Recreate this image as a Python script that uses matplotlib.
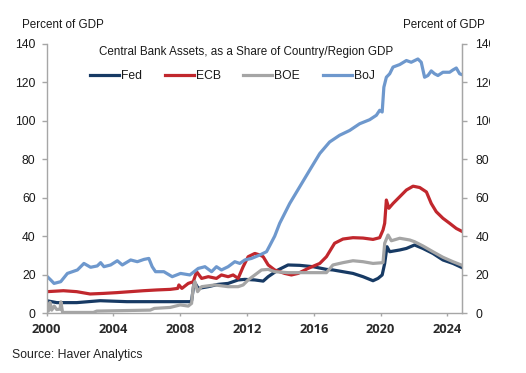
import matplotlib
matplotlib.use("Agg")
import matplotlib.pyplot as plt
from matplotlib.patches import Rectangle

# ---------------- data ----------------
fed_x = [2000.0, 2000.6, 2001.8, 2003.2, 2004.8, 2007.8, 2008.58, 2008.68, 2008.84, 2009.08,
         2009.68, 2010.27, 2010.87, 2011.47, 2011.87, 2012.47, 2012.97, 2013.27, 2013.86, 2014.46,
         2015.16, 2015.96, 2016.76, 2017.15, 2017.75, 2018.35, 2018.95, 2019.55, 2019.85, 2020.1,
         2020.25, 2020.39, 2020.55, 2021.15, 2021.55, 2022.04, 2022.54, 2023.14, 2023.74, 2024.34,
         2024.84]
fed_y = [6.4, 5.4, 5.4, 6.4, 5.9, 5.9, 5.9, 6.4, 16.3, 12.8,
         13.7, 14.9, 15.4, 17.2, 17.5, 17.2, 16.6, 18.9, 22.4, 25.0,
         24.8, 24.1, 22.7, 22.4, 21.5, 20.6, 18.9, 16.8, 18.0, 19.8,
         25.8, 34.5, 31.9, 32.8, 33.6, 35.4, 33.6, 31.0, 27.6, 25.8,
         23.8]

ecb_x = [2000.0, 2001.0, 2001.8, 2002.6, 2003.4, 2004.2, 2005.0, 2005.8, 2006.6, 2007.4,
         2007.85, 2007.92, 2008.1, 2008.48, 2008.78, 2008.98, 2009.28, 2009.68, 2010.17, 2010.47,
         2010.87, 2011.17, 2011.47, 2011.77, 2012.07, 2012.47, 2012.77, 2012.97, 2013.27, 2013.66,
         2014.26, 2014.66, 2015.06, 2015.66, 2016.36, 2016.76, 2017.25, 2017.75, 2018.35, 2018.95,
         2019.55, 2019.95, 2020.15, 2020.25, 2020.35, 2020.5, 2020.75, 2021.15, 2021.55, 2021.95,
         2022.35, 2022.75, 2023.04, 2023.34, 2023.74, 2024.14, 2024.54, 2024.9]
ecb_y = [11.1, 11.6, 11.1, 9.9, 10.2, 10.6, 11.1, 11.6, 12.0, 12.3,
         12.8, 14.6, 12.8, 15.4, 16.3, 21.5, 18.0, 18.9, 18.0, 19.8,
         18.9, 19.8, 18.0, 24.1, 29.3, 31.0, 30.2, 29.3, 25.0, 22.4,
         20.6, 19.8, 20.6, 23.2, 25.8, 29.3, 36.3, 38.5, 39.2, 39.0,
         38.3, 39.2, 43.2, 46.7, 58.8, 54.5, 57.0, 60.5, 64.0, 66.0,
         65.3, 63.0, 57.0, 52.7, 49.3, 46.7, 44.0, 42.4]

boe_x = [2000.0, 2000.1, 2000.2, 2000.3, 2000.45, 2000.6, 2000.8, 2000.85, 2000.95, 2002.8,
         2003.0, 2006.2, 2006.45, 2007.4, 2008.0, 2008.48, 2008.68, 2008.78, 2008.88, 2009.04,
         2009.28, 2010.07, 2010.87, 2011.47, 2011.77, 2012.07, 2012.47, 2012.87, 2013.27, 2013.66,
         2014.46, 2016.76, 2017.15, 2017.75, 2018.35, 2018.95, 2019.55, 2020.15, 2020.25, 2020.45,
         2020.65, 2021.15, 2021.75, 2022.04, 2022.54, 2023.14, 2023.74, 2024.34, 2024.84]
boe_y = [4.2, 1.0, 5.5, 1.5, 3.6, 1.8, 2.0, 5.8, 0.3, 0.3,
         1.0, 1.5, 2.4, 2.9, 4.2, 3.6, 5.0, 13.7, 16.3, 11.1,
         13.7, 14.6, 13.7, 13.7, 14.6, 17.2, 19.8, 22.4, 22.7, 21.5,
         21.0, 21.0, 25.0, 26.2, 27.2, 26.7, 25.8, 26.2, 36.3, 40.6,
         37.6, 38.9, 38.0, 37.1, 34.9, 31.9, 29.0, 26.7, 25.0]

boj_x = [2000.04, 2000.24, 2000.44, 2000.84, 2001.24, 2001.84, 2002.23, 2002.63, 2003.03, 2003.23,
         2003.43, 2003.83, 2004.23, 2004.53, 2005.03, 2005.43, 2005.83, 2006.12, 2006.32, 2006.52,
         2007.02, 2007.52, 2008.02, 2008.58, 2009.08, 2009.48, 2009.88, 2010.17, 2010.47, 2010.87,
         2011.27, 2011.57, 2011.87, 2012.27, 2012.77, 2013.17, 2013.36, 2013.66, 2013.96, 2014.56,
         2015.16, 2015.76, 2016.36, 2016.95, 2017.55, 2018.15, 2018.75, 2019.35, 2019.75, 2019.95,
         2020.1, 2020.2, 2020.35, 2020.55, 2020.75, 2021.15, 2021.55, 2021.84, 2022.24, 2022.44,
         2022.64, 2022.84, 2023.04, 2023.24, 2023.44, 2023.74, 2024.14, 2024.34, 2024.54, 2024.74,
         2024.9]
boj_y = [18.9, 17.2, 15.4, 16.3, 20.6, 22.4, 25.8, 23.8, 24.5, 26.2,
         24.1, 25.0, 27.2, 25.0, 27.6, 26.7, 27.9, 28.4, 24.1, 21.5,
         21.5, 18.9, 20.6, 19.8, 23.2, 24.1, 21.5, 24.1, 22.4, 24.1,
         26.7, 25.8, 27.6, 28.4, 30.2, 31.9, 35.0, 40.0, 46.7, 57.0,
         65.7, 74.4, 83.0, 89.0, 92.5, 95.0, 98.5, 100.6, 102.9, 105.5,
         104.6, 117.5, 122.7, 124.5, 128.0, 129.3, 131.4, 130.5, 132.2, 130.5,
         122.7, 123.6, 126.0, 124.5, 123.6, 125.3, 125.3, 126.5, 127.5, 124.5,
         124.0]

series_names = ["Fed", "ECB", "BOE", "BoJ"]
series_x = [fed_x, ecb_x, boe_x, boj_x]
series_y = [fed_y, ecb_y, boe_y, boj_y]
series_colors = ["#173a64", "#c1272d", "#a5a5a5", "#6e98cd"]

x_ticks = [2000, 2004, 2008, 2012, 2016, 2020, 2024]
y_ticks = [0, 20, 40, 60, 80, 100, 120, 140]

title = "Central Bank Assets, as a Share of Country/Region GDP"
unit_label = "Percent of GDP"
source = "Source: Haver Analytics"

# ---------------- figure ----------------
W, H = 526, 373
fig = plt.figure(figsize=(W / 100, H / 100), dpi=100)
fig.patch.set_facecolor("white")

L, R, T, B = 46.7, 462.3, 44.0, 313.0
ax = fig.add_axes([L / W, 1 - B / H, (R - L) / W, (B - T) / H])

axis_col = "#a6a6a6"
txt_col = "#1a1a1a"

for n, xs, ys, c in zip(series_names, series_x, series_y, series_colors):
    ax.plot(xs, ys, color=c, lw=2.3, label=n, solid_joinstyle="round")

ax.set_xlim(2000, 2024.9)
ax.set_ylim(0, 140)
ax.set_xticks(x_ticks)
ax.set_yticks(y_ticks)

ax.spines["top"].set_visible(False)
for s in ["left", "right", "bottom"]:
    ax.spines[s].set_color(axis_col)
    ax.spines[s].set_linewidth(1.0)

ax.tick_params(axis="y", direction="out", length=3.5, width=1, color=axis_col,
               pad=4.5, labelsize=8.7, labelcolor=txt_col)
for lab in ax.get_yticklabels():
    lab.set_fontfamily(["Liberation Sans", "DejaVu Sans"])
ax.tick_params(axis="x", direction="out", length=2.5, width=1, color=axis_col,
               pad=5, labelsize=9.3, labelcolor="#2a2a2a")
for lab in ax.get_xticklabels():
    lab.set_fontfamily(["Open Sans", "DejaVu Sans"])
    lab.set_fontweight("bold")

ax2 = ax.twinx()
ax2.set_ylim(0, 140)
ax2.set_yticks(y_ticks)
for s in ["top", "left", "bottom"]:
    ax2.spines[s].set_visible(False)
ax2.spines["right"].set_color(axis_col)
ax2.tick_params(axis="y", direction="out", length=3.5, width=1, color=axis_col,
                pad=6, labelsize=8.7, labelcolor=txt_col)
for lab in ax2.get_yticklabels():
    lab.set_fontfamily(["Liberation Sans", "DejaVu Sans"])

# title inside plot
ax.text(0.479, 0.970, title, transform=ax.transAxes, ha="center", va="center",
        fontsize=8.4, color=txt_col, family=["Liberation Sans", "DejaVu Sans"])

leg = ax.legend(loc="center left", bbox_to_anchor=(0.104, 0.881), ncol=4, frameon=False,
                handlelength=2.4, handletextpad=0.15, columnspacing=1.9,
                borderaxespad=0, borderpad=0,
                prop={"family": ["Liberation Sans", "DejaVu Sans"], "size": 8.7})
for t in leg.get_texts():
    t.set_color(txt_col)

# unit labels
fig.text(22 / W, 1 - 25 / H, unit_label, ha="left", va="center", fontsize=8.4,
         color=txt_col, family=["Liberation Sans", "DejaVu Sans"])
fig.text(485 / W, 1 - 25 / H, unit_label, ha="right", va="center", fontsize=8.4,
         color=txt_col, family=["Liberation Sans", "DejaVu Sans"])

# source
fig.text(12 / W, 1 - 355 / H, source, ha="left", va="center", fontsize=8.8,
         color="#222222", family=["Liberation Sans Narrow", "Liberation Sans", "DejaVu Sans"])

# right-hand labels are cut off in the reference
fig.add_artist(Rectangle((490 / W, 1 - 322 / H), 1 - 490 / W, (322 - 36) / H,
                         transform=fig.transFigure, facecolor="white", edgecolor="none",
                         zorder=10))

fig.savefig("out.png", dpi=100, facecolor="white")
